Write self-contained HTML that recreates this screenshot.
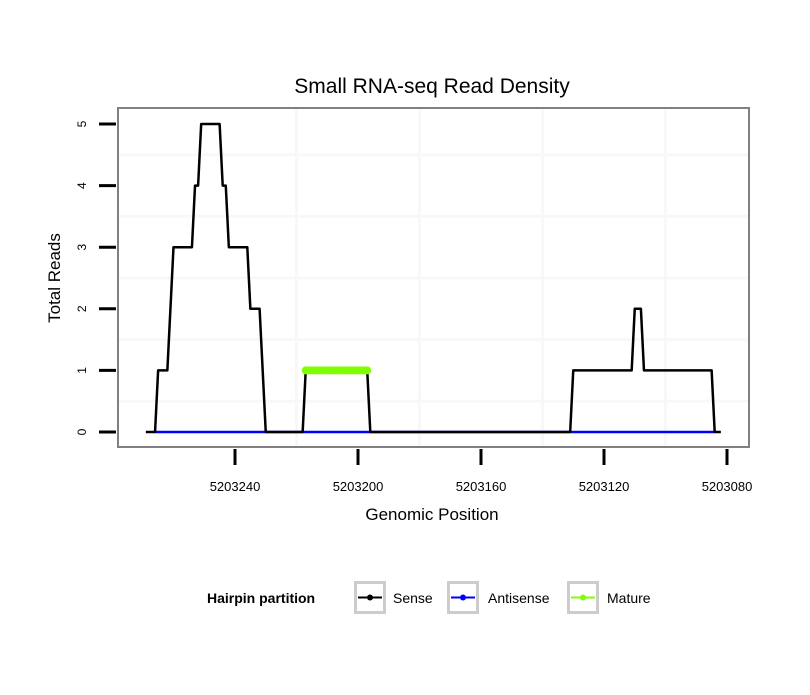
<!DOCTYPE html>
<html><head><meta charset="utf-8"><style>
body{margin:0;background:#fff;}
svg{font-family:"Liberation Sans",sans-serif;}
</style></head><body>
<svg id="chart" width="810" height="690" viewBox="0 0 810 690">
<rect width="810" height="690" fill="#fff"/>
<text x="432" y="93" font-size="21" text-anchor="middle">Small RNA-seq Read Density</text>
<g id="grid"></g>
<g id="series"></g>
<rect x="118" y="108" width="631" height="339" fill="none" stroke="#808080" stroke-width="2"/>
<g id="axes"></g>
<text x="432" y="520" font-size="17" text-anchor="middle">Genomic Position</text>
<text transform="translate(60,278) rotate(-90)" font-size="17" text-anchor="middle">Total Reads</text>
<g>
<text x="207" y="603" font-size="14" font-weight="bold">Hairpin partition</text>
<g>
<rect x="355.5" y="582.5" width="29" height="30" fill="#fff" stroke="#ccc" stroke-width="3"/>
<line x1="358" y1="597.5" x2="382" y2="597.5" stroke="#000" stroke-width="2"/><circle cx="370" cy="597.5" r="3" fill="#000"/>
<text x="393" y="603" font-size="14">Sense</text></g>
<g>
<rect x="448.5" y="582.5" width="29" height="30" fill="#fff" stroke="#ccc" stroke-width="3"/>
<line x1="451" y1="597.5" x2="475" y2="597.5" stroke="#0000ff" stroke-width="2"/><circle cx="463" cy="597.5" r="3" fill="#0000ff"/>
<text x="488" y="603" font-size="14">Antisense</text></g>
<g>
<rect x="568.5" y="582.5" width="29" height="30" fill="#fff" stroke="#ccc" stroke-width="3"/>
<line x1="571" y1="597.5" x2="595" y2="597.5" stroke="#7fff00" stroke-width="2"/><circle cx="583" cy="597.5" r="3" fill="#7fff00"/>
<text x="607" y="603" font-size="14">Mature</text></g>
</g>
</svg>
<script>
const xTicks=[5203240,5203200,5203160,5203120,5203080];
const yTicks=[0,1,2,3,4,5];
const sensePos=[5203269,5203266,5203265,5203262,5203260,5203254,5203253,5203252,5203251,5203245,5203244,5203243,5203242,5203236,5203235,5203232,5203230,5203218,5203217,5203197,5203196,5203131,5203130,5203111,5203110,5203108,5203107,5203085,5203084,5203082];
const senseVal=[0,0,1,1,3,3,4,4,5,5,4,4,3,3,2,2,0,0,1,1,0,0,1,1,2,2,1,1,0,0];
const antiPos=[5203266,5203084];
const antiVal=[0,0];
const maturePos=[5203217,5203216,5203215,5203214,5203213,5203212,5203211,5203210,5203209,5203208,5203207,5203206,5203205,5203204,5203203,5203202,5203201,5203200,5203199,5203198,5203197];
const matureVal=[1,1,1,1,1,1,1,1,1,1,1,1,1,1,1,1,1,1,1,1,1];
const NS="http://www.w3.org/2000/svg";
function X(p){return 235+(5203240-p)*3.075;}
function Y(v){return 432-v*61.6;}
function mk(t,a,par){const e=document.createElementNS(NS,t);for(const k in a)e.setAttribute(k,a[k]);par.appendChild(e);return e;}
const grid=document.getElementById('grid'),ser=document.getElementById('series'),ax=document.getElementById('axes');
for(let i=0;i<yTicks.length;i++){
  const v=yTicks[i];
  const gy=Y(v+0.5);
  if(gy>109){const g=mk('line',{x1:119,x2:748,y1:gy,y2:gy,stroke:'#f8f8f8','stroke-width':3},grid);
  
  }
  const t=mk('line',{x1:99,x2:116,y1:Y(v),y2:Y(v),stroke:'#000','stroke-width':3},ax);
  
  
  const l=mk('text',{transform:`translate(86,${Y(v)}) rotate(-90)`,'font-size':12,'text-anchor':'middle'},ax);
  l.textContent=v;
  
  
}
for(let i=0;i<xTicks.length;i++){
  const p=xTicks[i];
  const gx=X(p)+61.5;
  if(gx<748){const g=mk('line',{x1:gx,x2:gx,y1:109,y2:446,stroke:'#f8f8f8','stroke-width':3},grid);
  
  }
  const t=mk('line',{x1:X(p),x2:X(p),y1:449,y2:465,stroke:'#000','stroke-width':3},ax);
  
  
  const l=mk('text',{x:X(p),y:491,'font-size':13,'text-anchor':'middle'},ax);
  l.textContent=p;
  
  
}
function pts(P,V){return P.map((p,i)=>X(p)+','+Y(V[i])).join(' ');}
const a=mk('polyline',{points:pts(antiPos,antiVal),fill:'none',stroke:'#0000ff','stroke-width':2.5},ser);


const s=mk('polyline',{points:pts(sensePos,senseVal),fill:'none',stroke:'#000','stroke-width':2.5,'stroke-linejoin':'round'},ser);


const m=mk('polyline',{points:pts(maturePos,matureVal),fill:'none',stroke:'#7fff00','stroke-width':6},ser);


for(let i=0;i<maturePos.length;i++){
  const c=mk('circle',{cx:X(maturePos[i]),cy:Y(matureVal[i]),r:4,fill:'#7fff00'},ser);
  
  
}
</script>
</body></html>
